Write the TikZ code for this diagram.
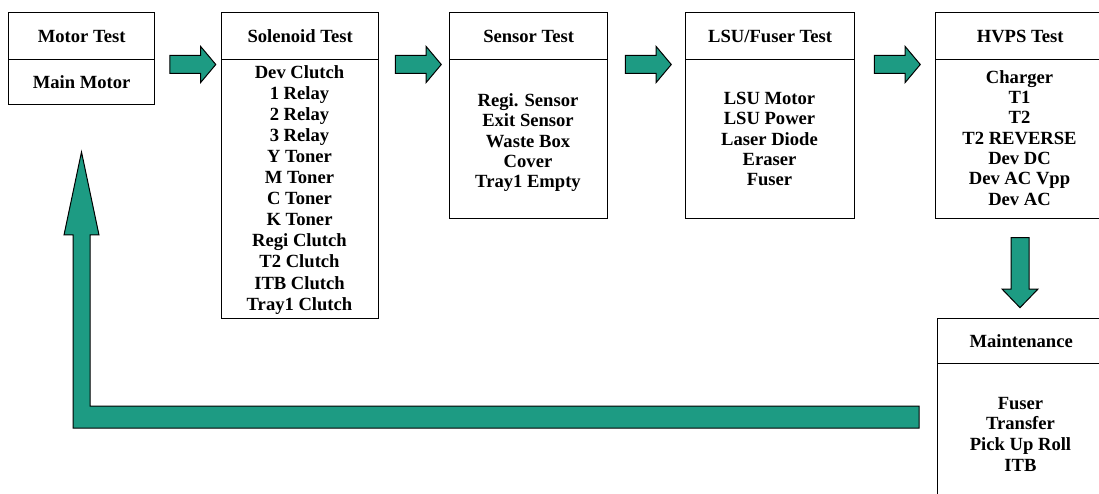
\documentclass[tikz,border=0pt]{standalone}
\usepackage{fontspec}
\setmainfont{LiberationSerif}[Extension=.ttf, UprightFont=*-Regular, BoldFont=*-Bold]
\usetikzlibrary{shapes.arrows}

\definecolor{flowteal}{RGB}{29,155,131}
% strut that centres a line of capitals on the node centre
\newcommand\capstrut{\rule[-0.22em]{0pt}{1.1em}}

\tikzset{
  box/.style={draw, line width=1.3pt, fill=white, inner sep=0pt, anchor=north west},
  head/.style={box, font=\bfseries\fontsize{18.6}{21}\selectfont, text height=12.3pt, text depth=0pt},
  items/.style={font=\bfseries\fontsize{18.6}{20.4}\selectfont, align=center, inner sep=0pt},
  flow/.style={single arrow, draw, line width=1pt, fill=flowteal,
    single arrow head extend=9pt, single arrow tip angle=100,
    minimum height=46pt, inner sep=8.5pt},
}

\begin{document}
\begin{tikzpicture}[x=1pt, y=-1pt]
  \useasboundingbox (0,0) rectangle (1099,494);
  \clip (0,0) rectangle (1099,494);

  % Motor Test
  \node[head, minimum width=146pt, minimum height=47pt] (motH) at (8,12) {Motor Test};
  \node[head, minimum width=146pt, minimum height=45pt] (motB) at (8,59) {Main Motor};

  % Solenoid Test
  \node[head, minimum width=157pt, minimum height=47pt] (solH) at (221,12) {Solenoid Test};
  \node[box, minimum width=157pt, minimum height=259pt] (solB) at (221,59) {};
  \node[items, font=\bfseries\fontsize{18.6}{21.1}\selectfont] (solT) at (299.5,188)
    {\capstrut Dev Clutch\\1 Relay\\2 Relay\\3 Relay\\Y Toner\\M Toner\\C Toner\\K Toner\\Regi Clutch\\T2 Clutch\\ITB Clutch\\Tray1 Clutch\capstrut};

  % Sensor Test
  \node[head, minimum width=158pt, minimum height=47pt] (senH) at (449,12) {Sensor Test};
  \node[box, minimum width=158pt, minimum height=159pt] (senB) at (449,59) {};
  \node[items] (senT) at (528,141)
    {\capstrut Regi. Sensor\\Exit Sensor\\Waste Box\\Cover\\Tray1 Empty\capstrut};

  % LSU/Fuser Test
  \node[head, minimum width=169pt, minimum height=47pt] (lsuH) at (685,12) {LSU/Fuser Test};
  \node[box, minimum width=169pt, minimum height=159pt] (lsuB) at (685,59) {};
  \node[items] (lsuT) at (769.5,139)
    {\capstrut LSU Motor\\LSU Power\\Laser Diode\\Eraser\\Fuser\capstrut};

  % HVPS Test
  \node[head, minimum width=169pt, minimum height=47pt] (hvH) at (935,12) {HVPS Test};
  \node[box, minimum width=169pt, minimum height=159pt] (hvB) at (935,59) {};
  \node[items, font=\bfseries\fontsize{18.6}{20.2}\selectfont] (hvT) at (1019.5,138.5)
    {\capstrut Charger\\T1\\T2\\T2 REVERSE\\Dev DC\\Dev AC Vpp\\Dev AC\capstrut};

  % Maintenance
  \node[head, minimum width=167pt, minimum height=45pt] (mtH) at (937,318) {Maintenance};
  \node[box, minimum width=167pt, minimum height=140pt] (mtB) at (937,363) {};
  \node[items, font=\bfseries\fontsize{18.6}{20.3}\selectfont] (mtT) at (1020.5,434.5)
    {\capstrut Fuser\\Transfer\\Pick Up Roll\\ITB\capstrut};

  % flow arrows between the test groups
  \node[flow] (a1) at (189,64.5) {};
  \node[flow] (a2) at (414.5,64.5) {};
  \node[flow] (a3) at (644.5,64.5) {};
  \node[flow] (a4) at (893.5,64.5) {};
  \node[flow, rotate=-90, minimum height=70pt, single arrow tip angle=88] (a5) at (1020,268) {};

  % return arrow from Maintenance back to the start
  \coordinate (retEnd) at (919,406);
  \draw[line width=1pt, fill=flowteal]
    (retEnd) -- (90,406) -- (90,235) -- (99,235) -- (81.5,152) -- (64,235)
    -- (73,235) -- (73,428) -- (919,428) -- cycle;
\end{tikzpicture}
\end{document}
